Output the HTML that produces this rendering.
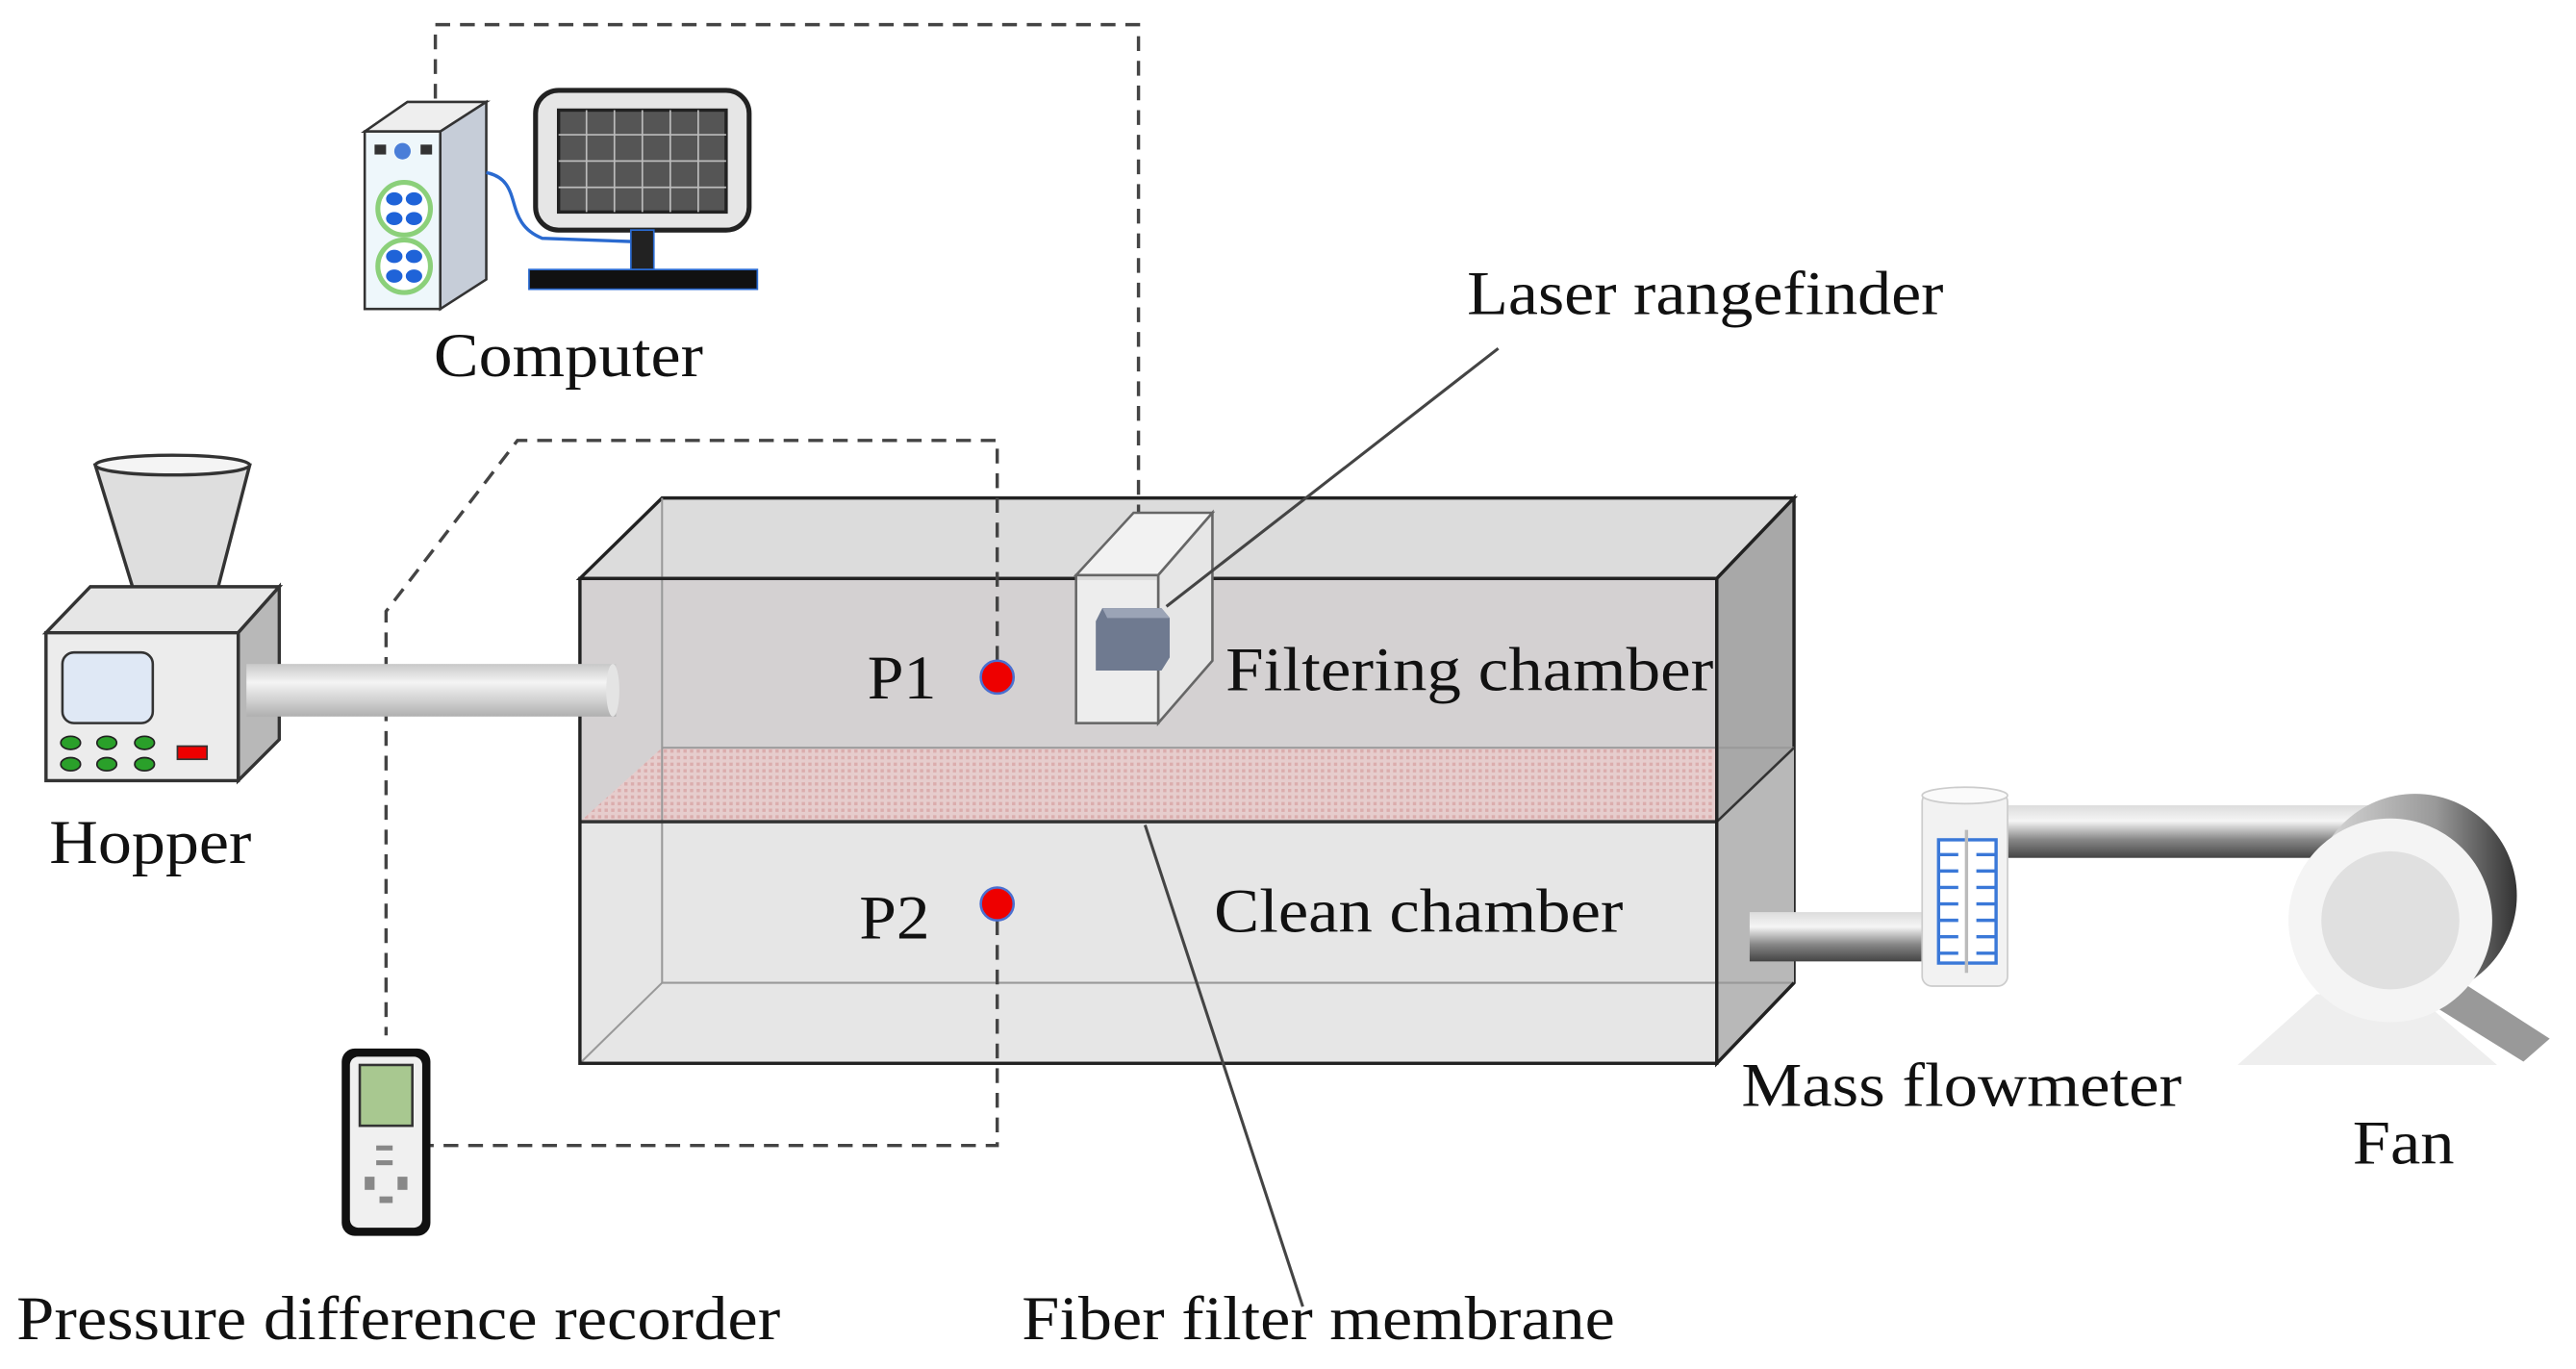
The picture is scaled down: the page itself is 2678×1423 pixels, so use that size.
<!DOCTYPE html>
<html><head><meta charset="utf-8"><style>
html,body{margin:0;padding:0;background:#fff;}
svg{display:block;}
</style></head><body>
<svg width="2678" height="1423" viewBox="0 0 1568 833" preserveAspectRatio="none" xmlns="http://www.w3.org/2000/svg">
<defs>
<linearGradient id="pipe" x1="0" y1="0" x2="0" y2="1">
<stop offset="0" stop-color="#c8c8c8"/><stop offset="0.35" stop-color="#f4f4f4"/><stop offset="0.7" stop-color="#d0d0d0"/><stop offset="1" stop-color="#b0b0b0"/></linearGradient>
<linearGradient id="pipe2" x1="0" y1="0" x2="0" y2="1">
<stop offset="0" stop-color="#dcdcdc"/><stop offset="0.3" stop-color="#f5f5f5"/><stop offset="0.65" stop-color="#888"/><stop offset="1" stop-color="#444"/></linearGradient>
<linearGradient id="ring" x1="0" y1="0" x2="1" y2="0">
<stop offset="0" stop-color="#ddd"/><stop offset="0.6" stop-color="#999"/><stop offset="1" stop-color="#333"/></linearGradient>
<pattern id="mesh" width="4" height="4" patternUnits="userSpaceOnUse"><rect width="4" height="4" fill="#e8cccc"/><rect width="2" height="2" fill="#dca9a9"/></pattern>
</defs>

<!-- main box -->
<polygon points="353,352 403,303 1092,303 1045,352" fill="#dcdcdc" stroke="#222" stroke-width="2"/>
<rect x="353" y="352" width="692" height="148" fill="#d4d1d2"/>
<rect x="353" y="500" width="692" height="147" fill="#e6e6e6"/>
<polygon points="353,500 403,455 1092,455 1045,500" fill="url(#mesh)" opacity="0.9"/>
<polygon points="1045,352 1092,303 1092,598 1045,647" fill="#a8a8a8" stroke="#222" stroke-width="2"/>
<polygon points="1045,500 1092,455 1092,598 1045,647" fill="#b8b8b8"/>
<g stroke="#999" stroke-width="1.2" fill="none">
<line x1="403" y1="303" x2="403" y2="598"/>
<line x1="403" y1="598" x2="1092" y2="598"/>
<line x1="353" y1="647" x2="403" y2="598"/>
<line x1="403" y1="455" x2="1092" y2="455"/>
</g>
<line x1="353" y1="500" x2="1045" y2="500" stroke="#333" stroke-width="2"/>
<line x1="1045" y1="500" x2="1092" y2="455" stroke="#333" stroke-width="1.5"/>
<rect x="353" y="352" width="692" height="295" fill="none" stroke="#222" stroke-width="2"/>
<line x1="1045" y1="647" x2="1092" y2="598" stroke="#222" stroke-width="2"/>

<!-- dashed connectors -->
<g fill="none" stroke="#444" stroke-width="2" stroke-dasharray="9,6">
<polyline points="265,75 265,15 693,15 693,330"/>
<polyline points="607,402 607,268 315,268 235,372 235,630"/>
<polyline points="607,560 607,697 262,697"/>
</g>

<!-- laser rangefinder -->
<polygon points="655,350 690,312 738,312 705,350" fill="#f2f2f2" stroke="#666" stroke-width="1.5"/>
<polygon points="705,350 738,312 738,402 705,440" fill="#e6e6e6" stroke="#666" stroke-width="1.5"/>
<rect x="655" y="350" width="50" height="90" fill="#f0f0f0" stroke="#666" stroke-width="1.5" fill-opacity="0.9"/>
<polygon points="671,370 707,370 712,376 712,400 707,408 667,408 667,378" fill="#6f7a90"/>
<polygon points="671,370 707,370 712,376 674,376" fill="#9ba4b6"/>
<line x1="912" y1="212" x2="710" y2="369" stroke="#444" stroke-width="1.8"/>
<line x1="697" y1="502" x2="793" y2="795" stroke="#444" stroke-width="1.8"/>

<!-- P dots -->
<circle cx="607" cy="412" r="10" fill="#e00" stroke="#4a6fd0" stroke-width="1.5"/>
<circle cx="607" cy="550" r="10" fill="#e00" stroke="#4a6fd0" stroke-width="1.5"/>

<!-- hopper -->
<polygon points="58,283 152,283 130,368 84,368" fill="#dedede" stroke="#333" stroke-width="2"/>
<ellipse cx="105" cy="283" rx="47" ry="6" fill="#f4f4f4" stroke="#333" stroke-width="2"/>
<ellipse cx="107" cy="368" rx="23" ry="4" fill="#333"/>
<polygon points="28,385 55,357 170,357 145,385" fill="#e6e6e6" stroke="#333" stroke-width="2"/>
<polygon points="145,385 170,357 170,450 145,475" fill="#b8b8b8" stroke="#333" stroke-width="2"/>
<rect x="28" y="385" width="117" height="90" fill="#ececec" stroke="#333" stroke-width="2"/>
<rect x="38" y="397" width="55" height="43" rx="7" fill="#dfe8f5" stroke="#333" stroke-width="1.5"/>
<g fill="#2aa02a" stroke="#222" stroke-width="1">
<ellipse cx="43" cy="452" rx="6" ry="4"/><ellipse cx="65" cy="452" rx="6" ry="4"/><ellipse cx="88" cy="452" rx="6" ry="4"/>
<ellipse cx="43" cy="465" rx="6" ry="4"/><ellipse cx="65" cy="465" rx="6" ry="4"/><ellipse cx="88" cy="465" rx="6" ry="4"/></g>
<rect x="108" y="454" width="18" height="8" fill="#e00" stroke="#333" stroke-width="1"/>
<rect x="150" y="404" width="225" height="32" fill="url(#pipe)"/>
<ellipse cx="373" cy="420" rx="4" ry="16" fill="#e4e4e4"/>

<!-- computer -->
<polygon points="222,80 248,62 296,62 268,80" fill="#eee" stroke="#333" stroke-width="1.5"/>
<polygon points="268,80 296,62 296,170 268,188" fill="#c6cdd8" stroke="#333" stroke-width="1.5"/>
<rect x="222" y="80" width="46" height="108" fill="#eef7fb" stroke="#333" stroke-width="1.5"/>
<rect x="228" y="88" width="7" height="6" fill="#333"/><rect x="256" y="88" width="7" height="6" fill="#333"/>
<circle cx="245" cy="92" r="5" fill="#4a7ed8"/>
<circle cx="246" cy="127" r="16" fill="#fff" stroke="#8bd07a" stroke-width="3"/>
<circle cx="246" cy="162" r="16" fill="#fff" stroke="#8bd07a" stroke-width="3"/>
<g fill="#1f63d8">
<ellipse cx="240" cy="121" rx="5" ry="4"/><ellipse cx="252" cy="121" rx="5" ry="4"/><ellipse cx="240" cy="133" rx="5" ry="4"/><ellipse cx="252" cy="133" rx="5" ry="4"/>
<ellipse cx="240" cy="156" rx="5" ry="4"/><ellipse cx="252" cy="156" rx="5" ry="4"/><ellipse cx="240" cy="168" rx="5" ry="4"/><ellipse cx="252" cy="168" rx="5" ry="4"/></g>
<path d="M296,105 C320,110 305,135 330,145 L385,147" fill="none" stroke="#2a6ad0" stroke-width="2"/>
<rect x="326" y="55" width="130" height="85" rx="14" fill="#e6e6e6" stroke="#222" stroke-width="3"/>
<rect x="340" y="67" width="102" height="62" fill="#555" stroke="#222" stroke-width="2"/>
<g stroke="#bbb" stroke-width="1">
<line x1="357" y1="67" x2="357" y2="129"/><line x1="374" y1="67" x2="374" y2="129"/><line x1="391" y1="67" x2="391" y2="129"/><line x1="408" y1="67" x2="408" y2="129"/><line x1="425" y1="67" x2="425" y2="129"/>
<line x1="340" y1="82" x2="442" y2="82"/><line x1="340" y1="98" x2="442" y2="98"/><line x1="340" y1="114" x2="442" y2="114"/></g>
<rect x="384" y="140" width="14" height="24" fill="#222" stroke="#2a6ad0" stroke-width="1"/>
<rect x="322" y="164" width="139" height="12" fill="#111" stroke="#2a6ad0" stroke-width="1"/>

<!-- recorder -->
<rect x="208" y="638" width="54" height="114" rx="8" fill="#111"/>
<rect x="213" y="643" width="44" height="104" rx="5" fill="#f0f0f0"/>
<rect x="219" y="648" width="32" height="37" fill="#a8c890" stroke="#333" stroke-width="1.5"/>
<g fill="#888"><rect x="229" y="697" width="10" height="3"/><rect x="229" y="706" width="10" height="3"/><rect x="222" y="716" width="6" height="8"/><rect x="242" y="716" width="6" height="8"/><rect x="231" y="728" width="8" height="4"/></g>

<!-- flowmeter pipes -->
<rect x="1065" y="555" width="112" height="30" fill="url(#pipe2)"/>
<rect x="1218" y="490" width="230" height="32" fill="url(#pipe2)"/>
<rect x="1170" y="482" width="52" height="118" rx="6" fill="#f2f2f2" stroke="#ccc" stroke-width="1"/>
<ellipse cx="1196" cy="484" rx="26" ry="5" fill="#fafafa" stroke="#ccc"/>
<rect x="1180" y="511" width="35" height="75" fill="#fff" stroke="#3a78d8" stroke-width="2"/>
<g stroke="#3a78d8" stroke-width="2">
<line x1="1180" y1="520" x2="1192" y2="520"/><line x1="1180" y1="530" x2="1192" y2="530"/><line x1="1180" y1="540" x2="1192" y2="540"/><line x1="1180" y1="550" x2="1192" y2="550"/><line x1="1180" y1="560" x2="1192" y2="560"/><line x1="1180" y1="570" x2="1192" y2="570"/><line x1="1180" y1="580" x2="1192" y2="580"/>
<line x1="1203" y1="520" x2="1215" y2="520"/><line x1="1203" y1="530" x2="1215" y2="530"/><line x1="1203" y1="540" x2="1215" y2="540"/><line x1="1203" y1="550" x2="1215" y2="550"/><line x1="1203" y1="560" x2="1215" y2="560"/><line x1="1203" y1="570" x2="1215" y2="570"/><line x1="1203" y1="580" x2="1215" y2="580"/></g>
<line x1="1197" y1="505" x2="1197" y2="592" stroke="#bbb" stroke-width="2"/>

<!-- fan -->
<polygon points="1362,648 1410,605 1470,605 1520,648" fill="#eeeeee"/>
<polygon points="1478,610 1496,596 1552,632 1536,646" fill="#999"/>
<circle cx="1470" cy="545" r="62" fill="url(#ring)"/>
<circle cx="1455" cy="560" r="62" fill="#f4f4f4"/>
<circle cx="1455" cy="560" r="42" fill="#e0e0e0"/>

<!-- labels -->
<g font-family="'Liberation Serif','Times New Roman',serif" font-size="38" fill="#111" lengthAdjust="spacingAndGlyphs">
<text x="893" y="191" textLength="290" lengthAdjust="spacingAndGlyphs">Laser rangefinder</text>
<text x="264" y="229" textLength="164" lengthAdjust="spacingAndGlyphs">Computer</text>
<text x="30" y="525" textLength="123" lengthAdjust="spacingAndGlyphs">Hopper</text>
<text x="528" y="425" textLength="42" lengthAdjust="spacingAndGlyphs">P1</text>
<text x="523" y="571" textLength="43" lengthAdjust="spacingAndGlyphs">P2</text>
<text x="746" y="420" textLength="297" lengthAdjust="spacingAndGlyphs">Filtering  chamber</text>
<text x="739" y="567" textLength="249" lengthAdjust="spacingAndGlyphs">Clean chamber</text>
<text x="1060" y="673" textLength="268" lengthAdjust="spacingAndGlyphs">Mass  flowmeter</text>
<text x="1432" y="708" textLength="62" lengthAdjust="spacingAndGlyphs">Fan</text>
<text x="10" y="815" textLength="465" lengthAdjust="spacingAndGlyphs">Pressure difference recorder</text>
<text x="622" y="815" textLength="361" lengthAdjust="spacingAndGlyphs">Fiber filter membrane</text>
</g>
</svg>
</body></html>
